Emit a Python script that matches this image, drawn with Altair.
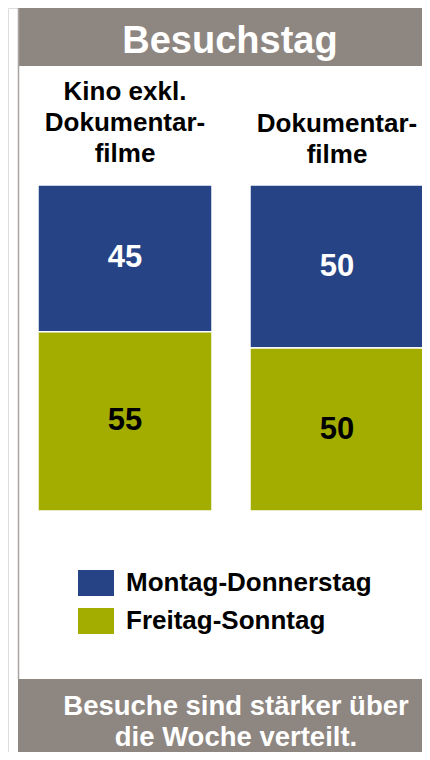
import altair as alt
import pandas as pd

# ---- data ----
categories = ["Kino exkl. Dokumentarfilme", "Dokumentarfilme"]
column_labels = ["Kino exkl.\nDokumentar-\nfilme", "Dokumentar-\nfilme"]
series = ["Montag-Donnerstag", "Freitag-Sonntag"]
values_mo_do = [45, 50]
values_fr_so = [55, 50]
title_text = "Besuchstag"
footer_text = "Besuche sind stärker über\ndie Woche verteilt."

BLUE = "#264385"
GREEN = "#A3AD00"
GRAY = "#8E8681"
BORDER = "#A8A3A0"
FONT = "Liberation Sans"

W, H = 414, 744

rows = []
for c, a, b in zip(categories, values_mo_do, values_fr_so):
    rows.append({"category": c, "series": series[0], "value": a, "order": 2})
    rows.append({"category": c, "series": series[1], "value": b, "order": 1})
df = pd.DataFrame(rows)
labels_df = pd.DataFrame({"category": categories, "label": column_labels})

xscale = alt.Scale(domain=categories, range=[30, 416], paddingInner=38 / 212, paddingOuter=0)
yscale = alt.Scale(domain=[0, 100], range=[503, 177], nice=False, zero=True)
cscale = alt.Scale(domain=series, range=[BLUE, GREEN])

# decorations
header = alt.Chart(pd.DataFrame({"t": [title_text]})).mark_rect(color=GRAY).encode(
    x=alt.value(10), x2=alt.value(W), y=alt.value(0), y2=alt.value(58))
header_text = alt.Chart(pd.DataFrame({"t": [title_text]})).mark_text(
    font=FONT, fontSize=38, fontWeight="bold", color="white", align="center", baseline="alphabetic"
).encode(x=alt.value(222), y=alt.value(45), text="t:N")
border = alt.Chart(pd.DataFrame({"t": [1]})).mark_rule(color=BORDER, strokeWidth=1.5).encode(
    x=alt.value(10.5), y=alt.value(0), y2=alt.value(671))
footer = alt.Chart(pd.DataFrame({"t": [footer_text]})).mark_rect(color=GRAY).encode(
    x=alt.value(10), x2=alt.value(W), y=alt.value(671), y2=alt.value(H))
footer_txt = alt.Chart(pd.DataFrame({"t": [footer_text]})).mark_text(
    font=FONT, fontSize=27.5, fontWeight="bold", color="white", align="center", baseline="alphabetic",
    lineBreak="\n", lineHeight=31
).encode(x=alt.value(228), y=alt.value(707), text="t:N")


def col_label(i, first_baseline):
    return alt.Chart(labels_df).transform_filter(
        alt.datum.category == categories[i]
    ).mark_text(
        font=FONT, fontSize=26, fontWeight="bold", color="black", align="center", baseline="alphabetic",
        lineBreak="\n", lineHeight=31
    ).encode(x=alt.X("category:N", scale=xscale, axis=None), y=alt.value(first_baseline), text="label:N")


col_text1 = col_label(0, 92)
col_text2 = col_label(1, 123.5)

base = alt.Chart(df).transform_stack(
    stack="value", groupby=["category"], as_=["y0", "y1"], sort=[alt.SortField("order", "ascending")]
)
bars = base.mark_bar(stroke="white", strokeWidth=1.5).encode(
    x=alt.X("category:N", scale=xscale, axis=None),
    y=alt.Y("y0:Q", scale=yscale, axis=None),
    y2="y1:Q",
    color=alt.Color("series:N", scale=cscale, legend=alt.Legend(
        title=None, orient="none", legendX=70, legendY=557, padding=0,
        symbolType="M-1,-0.722H1V0.722H-1Z", symbolSize=1296, symbolStrokeWidth=0,
        symbolOpacity=1, labelFont=FONT, labelFontSize=26, labelFontWeight="bold",
        labelColor="black", labelOffset=12, rowPadding=7, labelLimit=400)),
)
bar_text = base.transform_calculate(mid="(datum.y0 + datum.y1) / 2").mark_text(
    font=FONT, fontSize=31, fontWeight="bold", align="center", baseline="middle"
).encode(
    x=alt.X("category:N", scale=xscale, axis=None),
    y=alt.Y("mid:Q", scale=yscale, axis=None),
    text="value:Q",
    color=alt.condition(alt.datum.series == series[0], alt.value("white"), alt.value("black")),
)

chart = alt.layer(header, header_text, border, footer, footer_txt, col_text1, col_text2, bars, bar_text).properties(
    width=W, height=H, padding=0, autosize=alt.AutoSizeParams(type="none")
).configure_view(stroke=None).configure(font=FONT)

chart.save("out.html", embed_options={"renderer": "svg", "actions": False})
